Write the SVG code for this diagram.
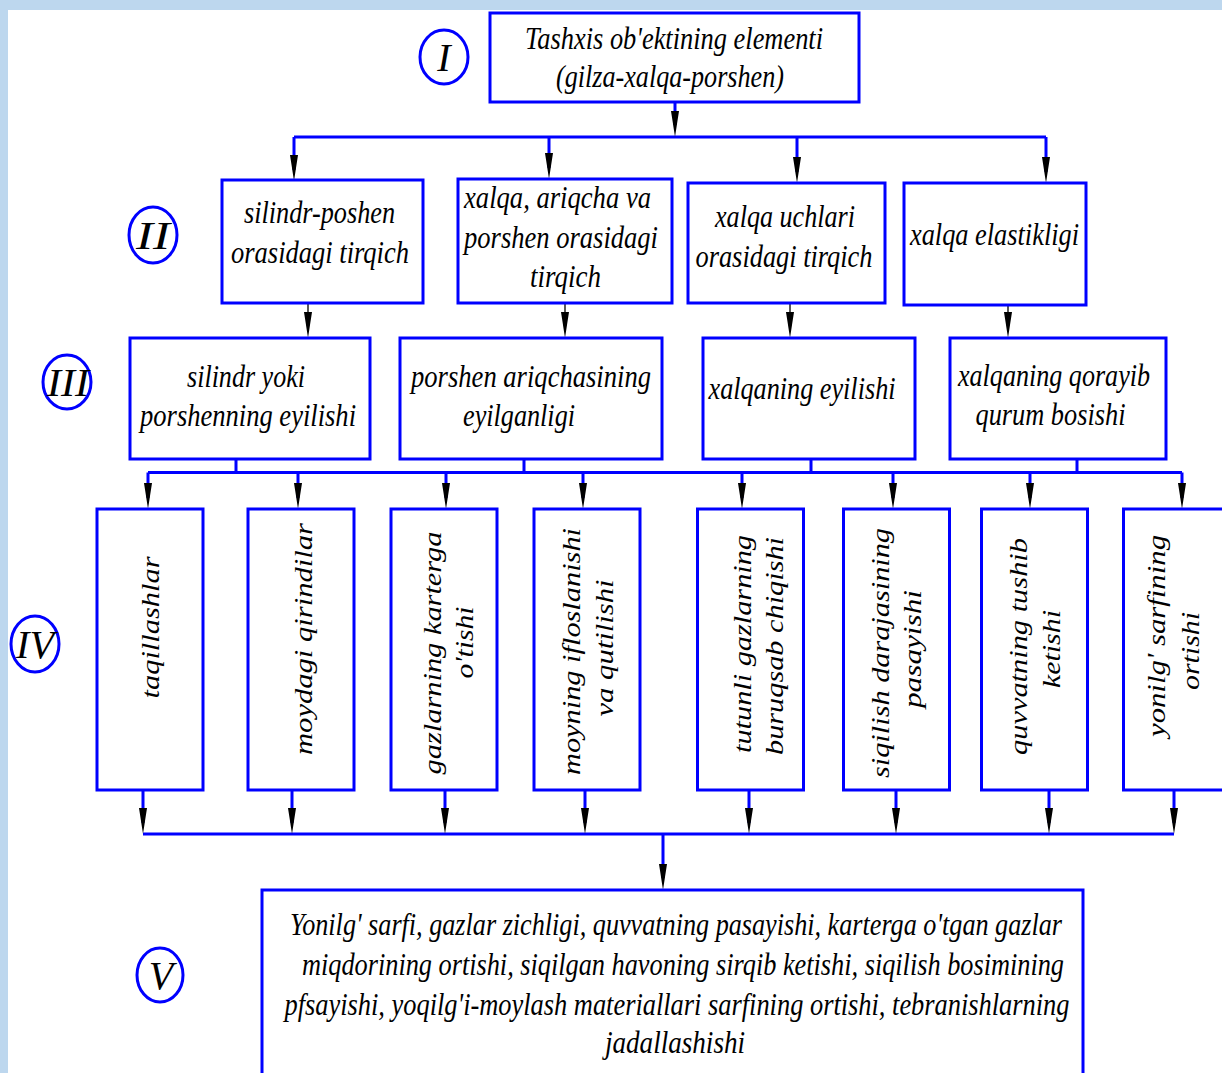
<svg xmlns="http://www.w3.org/2000/svg" xmlns:xlink="http://www.w3.org/1999/xlink" width="1222" height="1073" viewBox="0 0 1222 1073">
<style>
.box{fill:#fff;stroke:#0000ff;stroke-width:3}
.num{fill:none;stroke:#0000ff;stroke-width:3}
.c{fill:none;stroke:#0000ff;stroke-width:3}
.k{fill:none;stroke:#000;stroke-width:1.3}
text{font-family:"Liberation Serif","Times New Roman",serif;font-style:italic;fill:#000}
.t{font-size:27px}
.v{font-size:25px}
.n{font-size:40px}
</style>
<defs>
<path id="ah" d="M-4,-26 L0,0 L4,-26 Z" fill="#000"/>
</defs>
<rect x="0" y="0" width="1222" height="1073" fill="#bdd7ee"/>
<rect x="8" y="10" width="1214" height="1063" fill="#fff"/>

<g id="connectors">
<path class="c" d="M675,102 V125 M294,137 H1046 M294,137 V170 M549,137 V168 M797,137 V172 M1046,137 V172"/>
<path class="k" d="M308,303 V330 M565,303 V330 M790,303 V330 M1008,305 V330"/>
<path class="c" d="M236,459 V472.5 M524,459 V472.5 M811,459 V472.5 M1077,459 V472.5 M148,472.5 H1182 M148,472.5 V498 M298,472.5 V498 M446,472.5 V498 M583,472.5 V498 M742,472.5 V498 M893,472.5 V498 M1030,472.5 V498 M1182,472.5 V498"/>
<path class="c" d="M143,790 V823 M292,790 V823 M445,790 V823 M585,790 V823 M749,790 V823 M896,790 V823 M1049,790 V823 M1174,790 V823 M143,834 H1174 M663,834 V878"/>
<use xlink:href="#ah" x="675" y="137"/>
<use xlink:href="#ah" x="294" y="181"/>
<use xlink:href="#ah" x="549" y="179"/>
<use xlink:href="#ah" x="797" y="183"/>
<use xlink:href="#ah" x="1046" y="183"/>
<use xlink:href="#ah" x="308" y="338"/>
<use xlink:href="#ah" x="565" y="338"/>
<use xlink:href="#ah" x="790" y="338"/>
<use xlink:href="#ah" x="1008" y="338"/>
<use xlink:href="#ah" x="148" y="509"/>
<use xlink:href="#ah" x="298" y="509"/>
<use xlink:href="#ah" x="446" y="509"/>
<use xlink:href="#ah" x="583" y="509"/>
<use xlink:href="#ah" x="742" y="509"/>
<use xlink:href="#ah" x="893" y="509"/>
<use xlink:href="#ah" x="1030" y="509"/>
<use xlink:href="#ah" x="1182" y="509"/>
<use xlink:href="#ah" x="143" y="834"/>
<use xlink:href="#ah" x="292" y="834"/>
<use xlink:href="#ah" x="445" y="834"/>
<use xlink:href="#ah" x="585" y="834"/>
<use xlink:href="#ah" x="749" y="834"/>
<use xlink:href="#ah" x="896" y="834"/>
<use xlink:href="#ah" x="1049" y="834"/>
<use xlink:href="#ah" x="1174" y="834"/>
<use xlink:href="#ah" x="663" y="890"/>
</g>

<g id="labels">
<g id="lbl-I"><ellipse class="num" cx="444" cy="57" rx="24" ry="27"/><text class="n" x="444" y="71" text-anchor="middle">I</text></g>
<g id="lbl-II"><ellipse class="num" cx="153" cy="235" rx="24" ry="28"/><text class="n" x="153" y="249" text-anchor="middle" textLength="34" lengthAdjust="spacingAndGlyphs">II</text></g>
<g id="lbl-III"><ellipse class="num" cx="67" cy="382" rx="24" ry="27"/><text class="n" x="68" y="396" text-anchor="middle" textLength="42" lengthAdjust="spacingAndGlyphs">III</text></g>
<g id="lbl-IV"><ellipse class="num" cx="35" cy="644" rx="24" ry="28"/><text class="n" x="35" y="658" text-anchor="middle" textLength="38" lengthAdjust="spacingAndGlyphs">IV</text></g>
<g id="lbl-V"><ellipse class="num" cx="160" cy="975" rx="23" ry="27"/><text class="n" x="161" y="989" text-anchor="middle">V</text></g>
</g>

<g id="n1">
<rect class="box" x="490" y="13" width="369" height="89"/>
<text class="t" transform="translate(674,49) scale(1,1.2)" text-anchor="middle" textLength="298" lengthAdjust="spacingAndGlyphs">Tashxis ob'ektining elementi</text>
<text class="t" transform="translate(670,87) scale(1,1.2)" text-anchor="middle" textLength="228" lengthAdjust="spacingAndGlyphs">(gilza-xalqa-porshen)</text>
</g>

<g id="n2a">
<rect class="box" x="222" y="180" width="201" height="123"/>
<text class="t" transform="translate(319.5,223) scale(1,1.2)" text-anchor="middle" textLength="151" lengthAdjust="spacingAndGlyphs">silindr-poshen</text>
<text class="t" transform="translate(320,263) scale(1,1.2)" text-anchor="middle" textLength="178" lengthAdjust="spacingAndGlyphs">orasidagi tirqich</text>
</g>
<g id="n2b">
<rect class="box" x="458" y="179" width="214" height="124"/>
<text class="t" transform="translate(557.5,208) scale(1,1.2)" text-anchor="middle" textLength="187" lengthAdjust="spacingAndGlyphs">xalqa, ariqcha va</text>
<text class="t" transform="translate(561,248) scale(1,1.2)" text-anchor="middle" textLength="194" lengthAdjust="spacingAndGlyphs">porshen orasidagi</text>
<text class="t" transform="translate(565.5,287) scale(1,1.2)" text-anchor="middle" textLength="71" lengthAdjust="spacingAndGlyphs">tirqich</text>
</g>
<g id="n2c">
<rect class="box" x="688" y="183" width="197" height="120"/>
<text class="t" transform="translate(785,227) scale(1,1.2)" text-anchor="middle" textLength="140" lengthAdjust="spacingAndGlyphs">xalqa uchlari</text>
<text class="t" transform="translate(784,267) scale(1,1.2)" text-anchor="middle" textLength="177" lengthAdjust="spacingAndGlyphs">orasidagi tirqich</text>
</g>
<g id="n2d">
<rect class="box" x="904" y="183" width="182" height="122"/>
<text class="t" transform="translate(994.5,245) scale(1,1.2)" text-anchor="middle" textLength="169" lengthAdjust="spacingAndGlyphs">xalqa elastikligi</text>
</g>

<g id="n3a">
<rect class="box" x="130" y="338" width="240" height="121"/>
<text class="t" transform="translate(246,387) scale(1,1.2)" text-anchor="middle" textLength="118" lengthAdjust="spacingAndGlyphs">silindr yoki</text>
<text class="t" transform="translate(248,426) scale(1,1.2)" text-anchor="middle" textLength="216" lengthAdjust="spacingAndGlyphs">porshenning eyilishi</text>
</g>
<g id="n3b">
<rect class="box" x="400" y="338" width="262" height="121"/>
<text class="t" transform="translate(531,387) scale(1,1.2)" text-anchor="middle" textLength="240" lengthAdjust="spacingAndGlyphs">porshen ariqchasining</text>
<text class="t" transform="translate(519,426) scale(1,1.2)" text-anchor="middle" textLength="112" lengthAdjust="spacingAndGlyphs">eyilganligi</text>
</g>
<g id="n3c">
<rect class="box" x="703" y="338" width="212" height="121"/>
<text class="t" transform="translate(802,399) scale(1,1.2)" text-anchor="middle" textLength="187" lengthAdjust="spacingAndGlyphs">xalqaning eyilishi</text>
</g>
<g id="n3d">
<rect class="box" x="950" y="338" width="216" height="121"/>
<text class="t" transform="translate(1054,386) scale(1,1.2)" text-anchor="middle" textLength="192" lengthAdjust="spacingAndGlyphs">xalqaning qorayib</text>
<text class="t" transform="translate(1050.5,425) scale(1,1.2)" text-anchor="middle" textLength="150" lengthAdjust="spacingAndGlyphs">qurum bosishi</text>
</g>

<g id="n4a">
<rect class="box" x="97" y="509" width="106" height="281"/>
<text class="v" transform="translate(159,627.5) rotate(-90)" text-anchor="middle" textLength="142" lengthAdjust="spacingAndGlyphs">taqillashlar</text>
</g>
<g id="n4b">
<rect class="box" x="248" y="509" width="106" height="281"/>
<text class="v" transform="translate(312,639) rotate(-90)" text-anchor="middle" textLength="232" lengthAdjust="spacingAndGlyphs">moydagi qirindilar</text>
</g>
<g id="n4c">
<rect class="box" x="391" y="509" width="106" height="281"/>
<text class="v" transform="translate(441,653) rotate(-90)" text-anchor="middle" textLength="243" lengthAdjust="spacingAndGlyphs">gazlarning karterga</text>
<text class="v" transform="translate(473,642.5) rotate(-90)" text-anchor="middle" textLength="72" lengthAdjust="spacingAndGlyphs">o'tishi</text>
</g>
<g id="n4d">
<rect class="box" x="534" y="509" width="106" height="281"/>
<text class="v" transform="translate(580,651.5) rotate(-90)" text-anchor="middle" textLength="247" lengthAdjust="spacingAndGlyphs">moyning ifloslanishi</text>
<text class="v" transform="translate(613,648) rotate(-90)" text-anchor="middle" textLength="137" lengthAdjust="spacingAndGlyphs">va qutilishi</text>
</g>
<g id="n4e">
<rect class="box" x="697.5" y="509" width="106" height="281"/>
<text class="v" transform="translate(751,644) rotate(-90)" text-anchor="middle" textLength="218" lengthAdjust="spacingAndGlyphs">tutunli gazlarning</text>
<text class="v" transform="translate(783,646) rotate(-90)" text-anchor="middle" textLength="218" lengthAdjust="spacingAndGlyphs">buruqsab chiqishi</text>
</g>
<g id="n4f">
<rect class="box" x="843.5" y="509" width="106" height="281"/>
<text class="v" transform="translate(889,653) rotate(-90)" text-anchor="middle" textLength="250" lengthAdjust="spacingAndGlyphs">siqilish darajasining</text>
<text class="v" transform="translate(921,649) rotate(-90)" text-anchor="middle" textLength="118" lengthAdjust="spacingAndGlyphs">pasayishi</text>
</g>
<g id="n4g">
<rect class="box" x="981.5" y="509" width="106" height="281"/>
<text class="v" transform="translate(1027,646.5) rotate(-90)" text-anchor="middle" textLength="217" lengthAdjust="spacingAndGlyphs">quvvatning tushib</text>
<text class="v" transform="translate(1060,649) rotate(-90)" text-anchor="middle" textLength="78" lengthAdjust="spacingAndGlyphs">ketishi</text>
</g>
<g id="n4h">
<rect class="box" x="1123.5" y="509" width="106" height="281"/>
<text class="v" transform="translate(1165,636) rotate(-90)" text-anchor="middle" textLength="202" lengthAdjust="spacingAndGlyphs">yonilg' sarfining</text>
<text class="v" transform="translate(1199,651) rotate(-90)" text-anchor="middle" textLength="78" lengthAdjust="spacingAndGlyphs">ortishi</text>
</g>

<g id="n5">
<rect class="box" x="262" y="890" width="821" height="200"/>
<text class="t" transform="translate(676,935) scale(1,1.2)" text-anchor="middle" textLength="772" lengthAdjust="spacingAndGlyphs">Yonilg' sarfi, gazlar zichligi, quvvatning pasayishi, karterga o'tgan gazlar</text>
<text class="t" transform="translate(683,975) scale(1,1.2)" text-anchor="middle" textLength="762" lengthAdjust="spacingAndGlyphs">miqdorining ortishi, siqilgan havoning sirqib ketishi, siqilish bosimining</text>
<text class="t" transform="translate(677,1015) scale(1,1.2)" text-anchor="middle" textLength="785" lengthAdjust="spacingAndGlyphs">pfsayishi, yoqilg'i-moylash materiallari sarfining ortishi, tebranishlarning</text>
<text class="t" transform="translate(675,1053) scale(1,1.2)" text-anchor="middle" textLength="140" lengthAdjust="spacingAndGlyphs">jadallashishi</text>
</g>
</svg>
